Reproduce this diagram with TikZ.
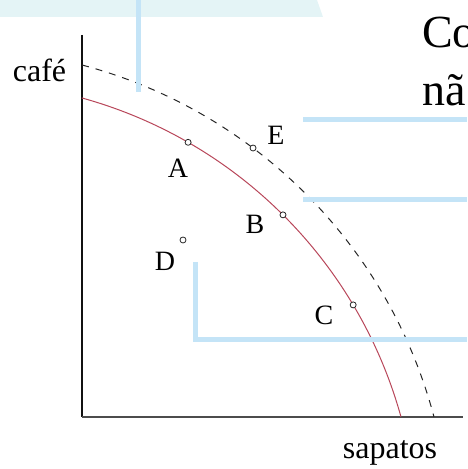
\documentclass[tikz,border=0pt]{standalone}
\usepackage{fontspec}
\setmainfont{Liberation Serif}
\usepackage{tikz}
\usetikzlibrary{arrows.meta,positioning,calc}
\definecolor{ppfRed}{HTML}{B8475A}
\definecolor{slideBand}{HTML}{E4F4F6}
\definecolor{slideBlue}{HTML}{C4E4F7}
\definecolor{axisInk}{HTML}{111111}
\tikzset{
  axisline/.style={draw=axisInk,line width=1.3pt},
  ppfcurve/.style={draw=ppfRed,line width=1pt},
  ppfshifted/.style={draw=black!85,line width=1pt,dash pattern=on 7pt off 7pt},
  prodpoint/.style={circle,draw=black!85,fill=white,line width=0.8pt,inner sep=0pt,minimum size=6pt},
  ptlabel/.style={inner sep=0pt,font=\fontsize{28}{30}\selectfont},
  axislabel/.style={inner sep=0pt,anchor=base,font=\fontsize{32}{36}\selectfont},
  slidetext/.style={inner sep=0pt,anchor=base west,font=\fontsize{46}{50}\selectfont},
  callout/.style={draw=slideBlue,line width=5pt}
}
\begin{document}
\begin{tikzpicture}[x=1pt,y=1pt]
  \useasboundingbox (0,0) rectangle (467,469);
  % slide band and title text
  \fill[slideBand] (0,469) -- (317,469) -- (323,452) -- (0,452) -- cycle;
  \node[slidetext] (t1) at (422,421) {Co};
  \node[slidetext] (t2) at (422,363) {nã};
  % axes
  \coordinate (O) at (82,52);
  \coordinate (ytop) at (82,434);
  \coordinate (xend) at (463,52);
  \draw[axisline] (ytop) -- (O);
  \draw[axisline,draw=black!70] (O) -- (xend);
  \node[axislabel] (cafe) at (39.5,387) {café};
  \node[axislabel] (sap) at (390,10) {sapatos};
  % frontiers
  \coordinate (ctr) at (-40,-70);
  \coordinate (ctrb) at (-44.7,-74.7);
  \draw[ppfshifted] ([shift={(75.17:495.2)}]ctrb) arc[start angle=75.17,end angle=14.85,radius=495.2];
  \draw[ppfcurve] ([shift={(74.57:457.6)}]ctr) arc[start angle=74.57,end angle=15.5,radius=457.6];
  % points
  \node[prodpoint] (A) at ([shift={(60.1:457.6)}]ctr) {};
  \node[prodpoint] (B) at ([shift={(45.1:457.6)}]ctr) {};
  \node[prodpoint] (C) at ([shift={(30.77:457.6)}]ctr) {};
  \node[prodpoint] (E) at ([shift={(53.04:495.2)}]ctrb) {};
  \node[prodpoint] (D) at (183,229) {};
  \node[ptlabel] (lA) at (178,301) {A};
  \node[ptlabel] (lE) at (276,334) {E};
  \node[ptlabel] (lB) at (255,245) {B};
  \node[ptlabel] (lC) at (324,154) {C};
  \node[ptlabel] (lD) at (165,208) {D};
  % callout lines
  \coordinate (k1a) at (138,469);
  \coordinate (k1b) at (138,377);
  \coordinate (k2a) at (303,349);
  \coordinate (k2b) at (467,349);
  \coordinate (k3a) at (303,269);
  \coordinate (k3b) at (467,269);
  \coordinate (k4a) at (195,207);
  \coordinate (k4b) at (467,129);
  \draw[callout] (k1a) -- (k1b);
  \draw[callout] (k2a) -- (k2b);
  \draw[callout] (k3a) -- (k3b);
  \draw[callout] (k4a) |- (k4b);
\end{tikzpicture}
\end{document}
